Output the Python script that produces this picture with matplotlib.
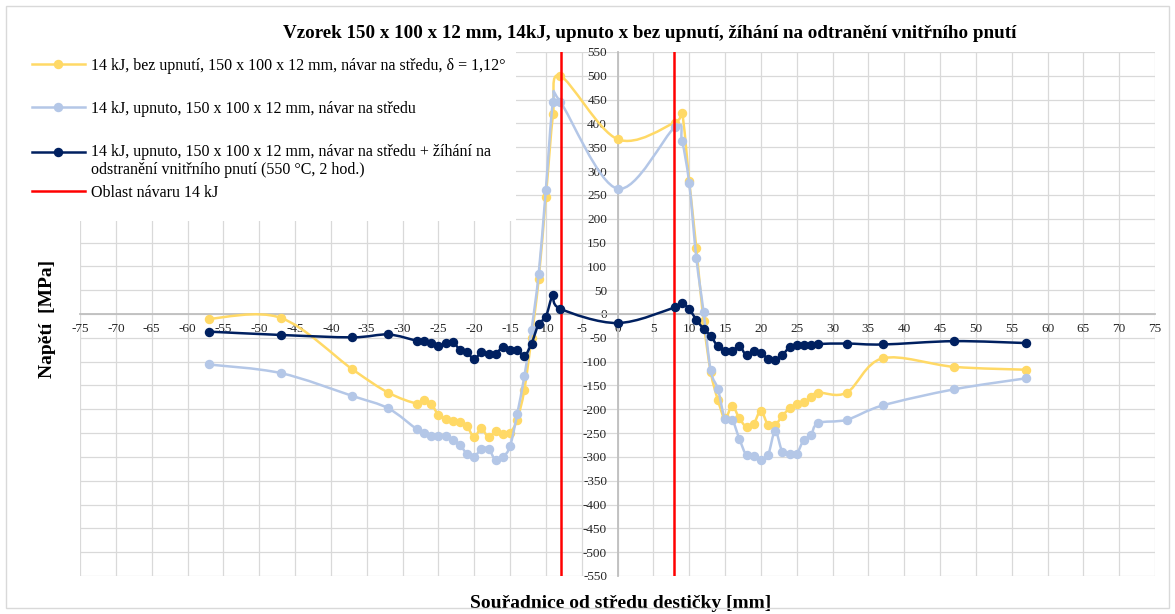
import numpy as np
import matplotlib
matplotlib.use("Agg")
import matplotlib.pyplot as plt
from matplotlib.path import Path
from matplotlib.patches import PathPatch, Rectangle
from matplotlib.lines import Line2D
from matplotlib.legend_handler import HandlerLine2D

plt.rcParams['font.family'] = ['Liberation Serif', 'DejaVu Serif']
plt.rcParams['axes.unicode_minus'] = False

# souradnice mericich bodu [mm]
x_mm = [-57, -47, -37, -32, -28, -27, -26, -25, -24, -23, -22, -21, -20, -19, -18,
        -17, -16, -15, -14, -13, -12, -11, -10, -9, -8, 0, 8, 9, 10, 11, 12, 13,
        14, 15, 16, 17, 18, 19, 20, 21, 22, 23, 24, 25, 26, 27, 28, 32, 37, 47, 57]

# napeti [MPa]
bez_upnuti = [-10, -8, -116, -165, -188, -180, -189, -211, -220, -224, -226, -236, -258, -240, -259,
              -246, -252, -249, -222, -159, -50, 73, 245, 419, 500, 367, 402, 422, 280, 138, -14, -121,
              -180, -219, -193, -219, -237, -231, -203, -233, -233, -214, -198, -189, -185, -175, -165, -165, -93, -111, -117]
upnuto = [-106, -124, -172, -198, -242, -249, -257, -256, -256, -265, -274, -294, -300, -283, -283,
          -307, -300, -278, -210, -131, -33, 84, 261, 445, 446, 263, 392, 363, 275, 118, 5, -118,
          -157, -221, -222, -262, -297, -299, -307, -297, -246, -290, -293, -293, -264, -255, -229, -222, -192, -158, -135]
upnuto_zihani = [-37, -44, -49, -43, -56, -56, -60, -68, -61, -58, -75, -80, -95, -80, -84,
                 -83, -70, -76, -75, -88, -62, -21, -6, 39, 11, -19, 14, 24, 10, -12, -31, -46,
                 -68, -77, -78, -67, -87, -77, -81, -94, -96, -86, -70, -65, -66, -66, -63, -62, -64, -57, -61]

oblast_navaru = [-7.9, 7.9]

labels = ['14 kJ, bez upnutí, 150 x 100 x 12 mm, návar na středu, δ = 1,12°',
          '14 kJ, upnuto, 150 x 100 x 12 mm, návar na středu',
          '14 kJ, upnuto, 150 x 100 x 12 mm, návar na středu + žíhání na\nodstranění vnitřního pnutí (550 °C, 2 hod.)',
          'Oblast návaru 14 kJ']
colors = ['#FFD966', '#B4C7E7', '#002060']
red = '#FF0000'


def smooth_path(x, y):
    # vyhlazena cara jako v Excelu (Catmull-Rom -> Bezier)
    p = np.column_stack([x, y]).astype(float)
    n = len(p)
    verts = [p[0]]
    codes = [Path.MOVETO]
    for i in range(n - 1):
        p0 = p[i - 1] if i > 0 else p[i]
        p3 = p[i + 2] if i + 2 < n else p[i + 1]
        c1 = p[i] + (p[i + 1] - p0) / 6.0
        c2 = p[i + 1] - (p3 - p[i]) / 6.0
        verts += [c1, c2, p[i + 1]]
        codes += [Path.CURVE4] * 3
    return Path(verts, codes)


class FirstLineHandler(HandlerLine2D):
    # znacka legendy u prvniho radku viceradkoveho textu
    def create_artists(self, legend, orig_handle, xdescent, ydescent, width, height, fontsize, trans):
        arts = super().create_artists(legend, orig_handle, xdescent, ydescent, width, height, fontsize, trans)
        for a in arts:
            a.set_ydata(np.asarray(a.get_ydata()) + 0.6 * fontsize)
        return arts


W, H = 1175, 614
fig = plt.figure(figsize=(W / 100, H / 100), dpi=100)
ax = fig.add_axes([80 / W, 1 - 576 / H, 1075 / W, 524 / H])

fig.patches.append(Rectangle((6 / W, 6 / H), 1 - 12 / W, 1 - 12 / H, transform=fig.transFigure,
                             facecolor='none', edgecolor='#D9D9D9', lw=1))

series = [bez_upnuti, upnuto, upnuto_zihani]
zorders = [3, 3.2, 3.6]
handles = []
for vals, c, z in zip(series, colors, zorders):
    ax.add_patch(PathPatch(smooth_path(x_mm, vals), facecolor='none', edgecolor=c, lw=1.8, zorder=z))
    ax.plot(x_mm, vals, 'o', color=c, ms=5.8, zorder=z)
    handles.append(Line2D([], [], color=c, lw=1.8, marker='o', ms=5.8))

for xv in oblast_navaru:
    ax.axvline(xv, color=red, lw=1.8, zorder=3.4)
red_handle = Line2D([], [], color=red, lw=1.8)

ax.set_xlim(-75, 75)
ax.set_ylim(-550, 550)
ax.set_xticks(np.arange(-75, 76, 5))
ax.set_yticks(np.arange(-550, 551, 50))
ax.grid(True, color='#D9D9D9', lw=0.9, zorder=0)
ax.set_axisbelow(True)
for s in ['top', 'right']:
    ax.spines[s].set_visible(False)
ax.spines['left'].set_position(('data', 0))
ax.spines['bottom'].set_position(('data', 0))
for s in ['left', 'bottom']:
    ax.spines[s].set_color('#BFBFBF')
    ax.spines[s].set_linewidth(1.3)
    ax.spines[s].set_zorder(1)
ax.tick_params(axis='both', length=0, labelsize=9.5, labelcolor='#262626')
ax.tick_params(axis='x', pad=6.5)
ax.tick_params(axis='y', pad=7.5)

# bile pozadi legendy prekryva mrizku
ax.add_patch(Rectangle((0, 0.677), 0.406, 0.323, transform=ax.transAxes,
                       facecolor='white', edgecolor='none', zorder=1.6))

leg_kw = dict(frameon=False, fontsize=11.5, handlelength=3.3, handletextpad=0.4,
              borderpad=0, borderaxespad=0, numpoints=1, bbox_transform=fig.transFigure, loc='upper left')
leg1 = ax.legend(handles, labels[:3], bbox_to_anchor=(32 / W, 1 - 58 / H), labelspacing=1.68,
                 handler_map={handles[2]: FirstLineHandler()}, **leg_kw)
leg1.get_texts()[2].set_linespacing(1.2)
leg1.set_zorder(5)
ax.add_artist(leg1)
leg2 = ax.legend([red_handle], labels[3:], bbox_to_anchor=(32 / W, 1 - 185 / H), **leg_kw)
leg2.set_zorder(5)

ax.set_xlabel('Souřadnice od středu destičky [mm]', fontsize=14, fontweight='bold')
ax.xaxis.set_label_coords(0.503, -0.053)
ax.xaxis.label.set_va('center')
ax.set_ylabel('Napětí  [MPa]', fontsize=14, fontweight='bold')
ax.yaxis.set_label_coords(-0.0305, 0.49)
ax.yaxis.label.set_va('center')
fig.text(650 / W, 1 - 33 / H,
         'Vzorek 150 x 100 x 12 mm, 14kJ, upnuto x bez upnutí, žíhání na odtranění vnitřního pnutí',
         ha='center', va='center', fontsize=13.7, fontweight='bold')

fig.savefig('out.png', dpi=100)
